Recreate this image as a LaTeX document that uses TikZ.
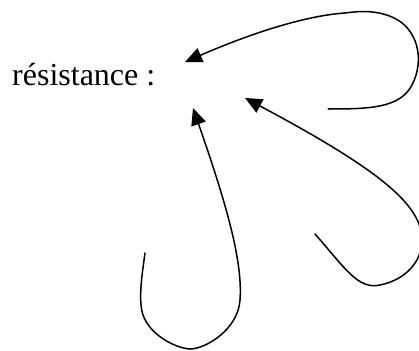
\documentclass[tikz,border=0pt]{standalone}
\usepackage{fontspec}
\setmainfont{Liberation Serif}
\usetikzlibrary{arrows.meta}
\begin{document}
\begin{tikzpicture}[x=1pt,y=-1pt,
  stroke/.style={line width=1.5pt,line cap=round},
  arr/.style={stroke,-{Triangle[length=17pt,width=15pt]}}]
\useasboundingbox (0,0) rectangle (419,350);
\clip (0,0) rectangle (419,350);
\node[anchor=base west,inner sep=0pt,font=\fontsize{32}{38}\selectfont] (label) at (12,85) {résistance :};
\coordinate (tipA) at (185,62);
\coordinate (tipB) at (245,98);
\coordinate (tipC) at (193,108);
% curve 1: top-right loop
\draw[arr] (328,109) .. controls (370,109) and (400,108) .. (412,85)
  .. controls (425,60) and (418,28) .. (392,17)
  .. controls (375,10) and (360,11) .. (345,13)
  .. controls (300,16) and (240,38) .. (tipA);
% curve 2: lower-right loop
\draw[arr] (315,234) .. controls (345,268) and (358,290) .. (380,285)
  .. controls (405,280) and (422,262) .. (422,240)
  .. controls (422,205) and (380,170) .. (tipB);
% curve 3: bottom loop
\draw[arr] (145,253) .. controls (142,275) and (138,300) .. (143,315)
  .. controls (150,335) and (175,348) .. (190,349)
  .. controls (205,349) and (238,330) .. (240,300)
  .. controls (243,260) and (225,200) .. (tipC);
\end{tikzpicture}
\end{document}
